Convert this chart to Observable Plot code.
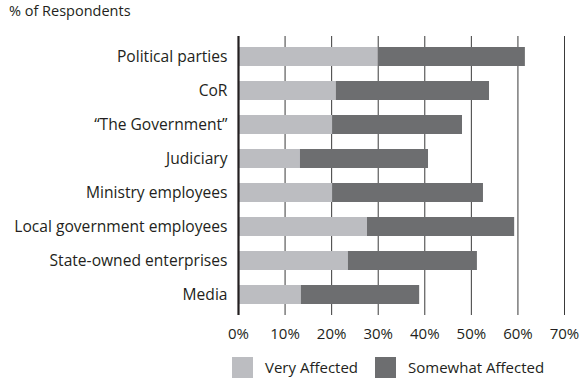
<!DOCTYPE html>
<html>
<head>
<meta charset="utf-8">
<script src="https://cdn.jsdelivr.net/npm/d3@7"></script>
<script src="https://cdn.jsdelivr.net/npm/@observablehq/plot@0.6"></script>
<style>
  body { margin: 0; background: #fff; font-family: "Open Sans", sans-serif; color: #231f20; }
  #wrap { width: 580px; height: 380px; position: relative; }
  #title { height: 26px; font-size: 14.5px; padding-left: 9px; line-height: 22px; }
  #legend { position: relative; height: 30px; font-size: 15px; }
  .sw { position: absolute; width: 21px; height: 21px; top: 12px; }
  .lt { position: absolute; top: 12px; line-height: 21px; }
</style>
</head>
<body>
<div id="wrap">
  <div id="title">% of Respondents</div>
  <div id="chart"></div>
  <div id="legend"></div>
</div>
<script>
const categories = ["Political parties", "CoR", "\u201CThe Government\u201D", "Judiciary", "Ministry employees", "Local government employees", "State-owned enterprises", "Media"];
const series = ["Very Affected", "Somewhat Affected"];
const veryAffected = [30.0, 21.0, 20.2, 13.3, 20.2, 27.7, 23.6, 13.5];
const somewhatAffected = [31.6, 32.9, 27.9, 27.5, 32.4, 31.6, 27.7, 25.4];
const xTicks = [0, 10, 20, 30, 40, 50, 60, 70];
const colors = ["#bcbdc1", "#6d6e70"];

const data = [];
categories.forEach((c, i) => {
  data.push({cat: c, series: series[0], value: veryAffected[i]});
  data.push({cat: c, series: series[1], value: somewhatAffected[i]});
});

const chart = Plot.plot({
  width: 580,
  height: 319,
  marginTop: 10,
  marginBottom: 30,
  marginLeft: 238,
  marginRight: 16,
  style: {fontFamily: "Open Sans, sans-serif", fontSize: "15px", color: "#231f20"},
  x: {domain: [0, 70], label: null},
  y: {domain: categories, paddingInner: 0.43, paddingOuter: 0.215, label: null},
  color: {domain: series, range: colors},
  marks: [
    Plot.ruleX(xTicks.filter(d => d > 0), {stroke: "#3a3a3a", strokeWidth: 1}),
    Plot.barX(data, {y: "cat", x: "value", fill: "series"}),
    Plot.ruleX([0], {stroke: "#231f20", strokeWidth: 2.2}),
    Plot.axisX({ticks: xTicks, tickFormat: d => d + "%", tickSize: 0, tickPadding: 13, label: null, fontSize: 15}),
    Plot.axisY({tickSize: 0, tickPadding: 11, label: null, fontSize: 15.6})
  ]
});
document.getElementById("chart").appendChild(chart);

const legend = document.getElementById("legend");
const pos = [[232, 265], [375, 408]];
series.forEach((s, i) => {
  const sw = document.createElement("div");
  sw.className = "sw"; sw.style.left = pos[i][0] + "px"; sw.style.background = colors[i];
  const t = document.createElement("div");
  t.className = "lt"; t.style.left = pos[i][1] + "px"; t.textContent = s;
  legend.appendChild(sw); legend.appendChild(t);
});
</script>
</body>
</html>
